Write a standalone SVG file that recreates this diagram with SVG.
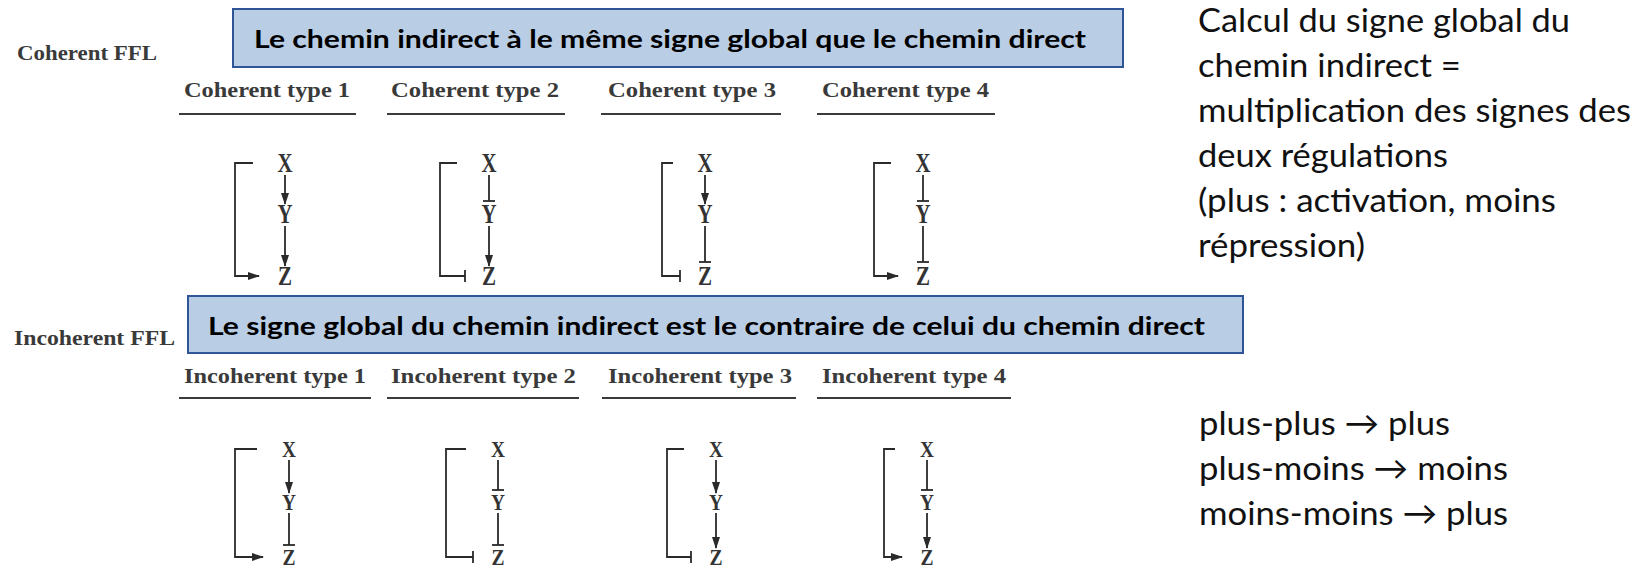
<svg xmlns="http://www.w3.org/2000/svg" width="1649" height="569" viewBox="0 0 1649 569">
<style>
.bg{fill:#ffffff}
.box{fill:#b9cde5;stroke:#2f5597;stroke-width:2}
.boxt{font-family:Lato,"Open Sans",sans-serif;font-weight:bold;font-size:24px;fill:#000}
.side{font-family:Lato,"Open Sans",sans-serif;font-size:33px;fill:#111}
.ffl{font-family:"Liberation Serif",serif;font-weight:bold;font-size:22px;fill:#3a3a3a}
.lbl{font-family:"Liberation Serif",serif;font-weight:bold;font-size:22px;fill:#3a3a3a}
.ul{stroke:#3a3a3a;stroke-width:2}
.n{font-family:"Liberation Serif",serif;font-weight:bold;font-size:27px;fill:#333;text-anchor:middle}
.m{font-family:"Liberation Serif",serif;font-weight:bold;font-size:23px;fill:#333;text-anchor:middle}
.c{fill:none;stroke:#2a2a2a;stroke-width:1.8}
.act{marker-end:url(#arr)}
.inh{marker-end:url(#bar)}
</style>
<defs>
<marker id="arr" viewBox="0 0 12 8" refX="11" refY="4" markerWidth="12" markerHeight="8" markerUnits="userSpaceOnUse" orient="auto">
<path d="M0,0 L12,4 L0,8 z" fill="#2a2a2a"/>
</marker>
<marker id="bar" viewBox="-2 -7 4 14" refX="0" refY="0" markerWidth="4" markerHeight="14" markerUnits="userSpaceOnUse" orient="auto">
<path d="M0,-6 L0,6" stroke="#2a2a2a" stroke-width="1.8"/>
</marker>
</defs>
<rect class="bg" x="0" y="0" width="1649" height="569"/>

<g id="coherent-title">
<text class="ffl" x="17" y="60" textLength="140" lengthAdjust="spacingAndGlyphs">Coherent FFL</text>
</g>
<g id="coherent-box">
<rect class="box" x="233" y="9" width="890" height="58"/>
<text class="boxt" x="254" y="48" textLength="832" lengthAdjust="spacingAndGlyphs">Le chemin indirect à le même signe global que le chemin direct</text>
</g>
<g id="coherent-labels">
<text class="lbl" x="184" y="97" textLength="166" lengthAdjust="spacingAndGlyphs">Coherent type 1</text>
<text class="lbl" x="391" y="97" textLength="168" lengthAdjust="spacingAndGlyphs">Coherent type 2</text>
<text class="lbl" x="608" y="97" textLength="168" lengthAdjust="spacingAndGlyphs">Coherent type 3</text>
<text class="lbl" x="822" y="97" textLength="167" lengthAdjust="spacingAndGlyphs">Coherent type 4</text>
<line class="ul" x1="179" y1="114" x2="356" y2="114"/>
<line class="ul" x1="387" y1="114" x2="565" y2="114"/>
<line class="ul" x1="601" y1="114" x2="781" y2="114"/>
<line class="ul" x1="817" y1="114" x2="995" y2="114"/>
</g>

<g id="incoherent-title">
<text class="ffl" x="14" y="345" textLength="161" lengthAdjust="spacingAndGlyphs">Incoherent FFL</text>
</g>
<g id="incoherent-box">
<rect class="box" x="188" y="296" width="1055" height="57"/>
<text class="boxt" x="208" y="335" textLength="997" lengthAdjust="spacingAndGlyphs">Le signe global du chemin indirect est le contraire de celui du chemin direct</text>
</g>
<g id="incoherent-labels">
<text class="lbl" x="184" y="383" textLength="182" lengthAdjust="spacingAndGlyphs">Incoherent type 1</text>
<text class="lbl" x="391" y="383" textLength="185" lengthAdjust="spacingAndGlyphs">Incoherent type 2</text>
<text class="lbl" x="608" y="383" textLength="184" lengthAdjust="spacingAndGlyphs">Incoherent type 3</text>
<text class="lbl" x="822" y="383" textLength="184" lengthAdjust="spacingAndGlyphs">Incoherent type 4</text>
<line class="ul" x1="179" y1="398" x2="371" y2="398"/>
<line class="ul" x1="387" y1="398" x2="579" y2="398"/>
<line class="ul" x1="602" y1="398" x2="796" y2="398"/>
<line class="ul" x1="817" y1="398" x2="1011" y2="398"/>
</g>

<g id="coh1-X"><text class="n" x="285" y="172" textLength="15" lengthAdjust="spacingAndGlyphs">X</text></g>
<g id="coh1-Y"><text class="n" x="285" y="223" textLength="15" lengthAdjust="spacingAndGlyphs">Y</text></g>
<g id="coh1-Z"><text class="n" x="285" y="285" textLength="14" lengthAdjust="spacingAndGlyphs">Z</text></g>
<g id="coh2-X"><text class="n" x="489" y="172" textLength="15" lengthAdjust="spacingAndGlyphs">X</text></g>
<g id="coh2-Y"><text class="n" x="489" y="223" textLength="15" lengthAdjust="spacingAndGlyphs">Y</text></g>
<g id="coh2-Z"><text class="n" x="489" y="285" textLength="14" lengthAdjust="spacingAndGlyphs">Z</text></g>
<g id="coh3-X"><text class="n" x="705" y="172" textLength="15" lengthAdjust="spacingAndGlyphs">X</text></g>
<g id="coh3-Y"><text class="n" x="705" y="223" textLength="15" lengthAdjust="spacingAndGlyphs">Y</text></g>
<g id="coh3-Z"><text class="n" x="705" y="285" textLength="14" lengthAdjust="spacingAndGlyphs">Z</text></g>
<g id="coh4-X"><text class="n" x="923" y="172" textLength="15" lengthAdjust="spacingAndGlyphs">X</text></g>
<g id="coh4-Y"><text class="n" x="923" y="223" textLength="15" lengthAdjust="spacingAndGlyphs">Y</text></g>
<g id="coh4-Z"><text class="n" x="923" y="285" textLength="14" lengthAdjust="spacingAndGlyphs">Z</text></g>

<g id="inc1-X"><text class="m" x="289" y="457" textLength="14" lengthAdjust="spacingAndGlyphs">X</text></g>
<g id="inc1-Y"><text class="m" x="289" y="510" textLength="14" lengthAdjust="spacingAndGlyphs">Y</text></g>
<g id="inc1-Z"><text class="m" x="289" y="565" textLength="13" lengthAdjust="spacingAndGlyphs">Z</text></g>
<g id="inc2-X"><text class="m" x="498" y="457" textLength="14" lengthAdjust="spacingAndGlyphs">X</text></g>
<g id="inc2-Y"><text class="m" x="498" y="510" textLength="14" lengthAdjust="spacingAndGlyphs">Y</text></g>
<g id="inc2-Z"><text class="m" x="498" y="565" textLength="13" lengthAdjust="spacingAndGlyphs">Z</text></g>
<g id="inc3-X"><text class="m" x="716" y="457" textLength="14" lengthAdjust="spacingAndGlyphs">X</text></g>
<g id="inc3-Y"><text class="m" x="716" y="510" textLength="14" lengthAdjust="spacingAndGlyphs">Y</text></g>
<g id="inc3-Z"><text class="m" x="716" y="565" textLength="13" lengthAdjust="spacingAndGlyphs">Z</text></g>
<g id="inc4-X"><text class="m" x="927" y="457" textLength="14" lengthAdjust="spacingAndGlyphs">X</text></g>
<g id="inc4-Y"><text class="m" x="927" y="510" textLength="14" lengthAdjust="spacingAndGlyphs">Y</text></g>
<g id="inc4-Z"><text class="m" x="927" y="565" textLength="13" lengthAdjust="spacingAndGlyphs">Z</text></g>

<g id="connectors">
<path class="c act" d="M285,175 V204"/>
<path class="c act" d="M285,226 V266"/>
<path class="c act" d="M253,163 H235 V276 H259"/>
<path class="c inh" d="M489,175 V201"/>
<path class="c act" d="M489,226 V266"/>
<path class="c inh" d="M457,163 H440 V276 H465"/>
<path class="c act" d="M705,175 V204"/>
<path class="c inh" d="M705,226 V262"/>
<path class="c inh" d="M673,163 H662 V276 H680"/>
<path class="c inh" d="M923,175 V201"/>
<path class="c inh" d="M923,226 V262"/>
<path class="c act" d="M891,163 H874 V276 H898"/>
<path class="c act" d="M289,460 V493"/>
<path class="c inh" d="M289,513 V545"/>
<path class="c act" d="M257,449 H235 V557 H263"/>
<path class="c inh" d="M498,460 V490"/>
<path class="c inh" d="M498,513 V545"/>
<path class="c inh" d="M466,449 H446 V557 H473"/>
<path class="c act" d="M716,460 V493"/>
<path class="c act" d="M716,513 V548"/>
<path class="c inh" d="M684,449 H667 V557 H691"/>
<path class="c inh" d="M927,460 V490"/>
<path class="c act" d="M927,513 V548"/>
<path class="c act" d="M895,449 H884 V557 H902"/>
</g>

<g id="side-note">
<text class="side" x="1198" y="32" textLength="372" lengthAdjust="spacingAndGlyphs">Calcul du signe global du</text>
<text class="side" x="1198" y="77" textLength="263" lengthAdjust="spacingAndGlyphs">chemin indirect =</text>
<text class="side" x="1198" y="122" textLength="433" lengthAdjust="spacingAndGlyphs">multiplication des signes des</text>
<text class="side" x="1198" y="167" textLength="250" lengthAdjust="spacingAndGlyphs">deux régulations</text>
<text class="side" x="1198" y="212" textLength="358" lengthAdjust="spacingAndGlyphs">(plus : activation, moins</text>
<text class="side" x="1198" y="257" textLength="167" lengthAdjust="spacingAndGlyphs">répression)</text>
</g>
<g id="rules">
<text class="side" x="1199" y="435" textLength="251" lengthAdjust="spacingAndGlyphs">plus-plus → plus</text>
<text class="side" x="1199" y="480" textLength="309" lengthAdjust="spacingAndGlyphs">plus-moins → moins</text>
<text class="side" x="1199" y="525" textLength="309" lengthAdjust="spacingAndGlyphs">moins-moins → plus</text>
</g>
</svg>
